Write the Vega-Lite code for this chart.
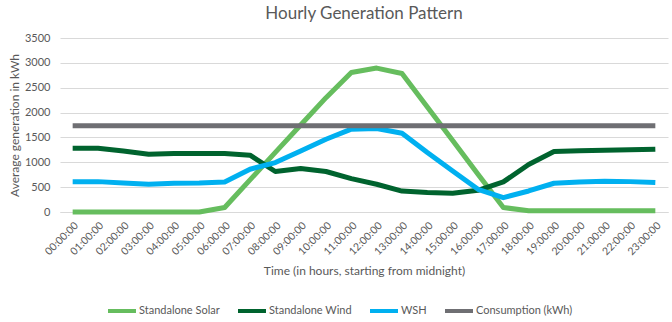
{
  "$schema": "https://vega.github.io/schema/vega-lite/v6.json",
  "width": 608,
  "height": 174,
  "autosize": "none",
  "padding": {"left": 60, "top": 38, "right": 4, "bottom": 110},
  "background": "white",
  "title": {"text": "Hourly Generation Pattern", "anchor": "middle", "frame": "group", "offset": 9, "font": "Lato", "fontSize": 17, "fontWeight": "normal", "color": "#595959"},
  "config": {"view": {"stroke": null}, "font": "Lato"},
  "data": {"values": [
    {"t":"00:00:00","s":"Standalone Solar","v":0},{"t":"01:00:00","s":"Standalone Solar","v":0},{"t":"02:00:00","s":"Standalone Solar","v":0},{"t":"03:00:00","s":"Standalone Solar","v":0},{"t":"04:00:00","s":"Standalone Solar","v":0},{"t":"05:00:00","s":"Standalone Solar","v":0},{"t":"06:00:00","s":"Standalone Solar","v":90},{"t":"07:00:00","s":"Standalone Solar","v":645},{"t":"08:00:00","s":"Standalone Solar","v":1200},{"t":"09:00:00","s":"Standalone Solar","v":1750},{"t":"10:00:00","s":"Standalone Solar","v":2300},{"t":"11:00:00","s":"Standalone Solar","v":2805},{"t":"12:00:00","s":"Standalone Solar","v":2895},{"t":"13:00:00","s":"Standalone Solar","v":2785},{"t":"14:00:00","s":"Standalone Solar","v":2110},{"t":"15:00:00","s":"Standalone Solar","v":1440},{"t":"16:00:00","s":"Standalone Solar","v":760},{"t":"17:00:00","s":"Standalone Solar","v":90},{"t":"18:00:00","s":"Standalone Solar","v":25},{"t":"19:00:00","s":"Standalone Solar","v":25},{"t":"20:00:00","s":"Standalone Solar","v":25},{"t":"21:00:00","s":"Standalone Solar","v":25},{"t":"22:00:00","s":"Standalone Solar","v":25},{"t":"23:00:00","s":"Standalone Solar","v":25},
    {"t":"00:00:00","s":"Standalone Wind","v":1283},{"t":"01:00:00","s":"Standalone Wind","v":1283},{"t":"02:00:00","s":"Standalone Wind","v":1225},{"t":"03:00:00","s":"Standalone Wind","v":1160},{"t":"04:00:00","s":"Standalone Wind","v":1176},{"t":"05:00:00","s":"Standalone Wind","v":1176},{"t":"06:00:00","s":"Standalone Wind","v":1176},{"t":"07:00:00","s":"Standalone Wind","v":1142},{"t":"08:00:00","s":"Standalone Wind","v":815},{"t":"09:00:00","s":"Standalone Wind","v":873},{"t":"10:00:00","s":"Standalone Wind","v":815},{"t":"11:00:00","s":"Standalone Wind","v":672},{"t":"12:00:00","s":"Standalone Wind","v":558},{"t":"13:00:00","s":"Standalone Wind","v":420},{"t":"14:00:00","s":"Standalone Wind","v":390},{"t":"15:00:00","s":"Standalone Wind","v":376},{"t":"16:00:00","s":"Standalone Wind","v":437},{"t":"17:00:00","s":"Standalone Wind","v":605},{"t":"18:00:00","s":"Standalone Wind","v":955},{"t":"19:00:00","s":"Standalone Wind","v":1216},{"t":"20:00:00","s":"Standalone Wind","v":1230},{"t":"21:00:00","s":"Standalone Wind","v":1240},{"t":"22:00:00","s":"Standalone Wind","v":1250},{"t":"23:00:00","s":"Standalone Wind","v":1263},
    {"t":"00:00:00","s":"WSH","v":611},{"t":"01:00:00","s":"WSH","v":611},{"t":"02:00:00","s":"WSH","v":585},{"t":"03:00:00","s":"WSH","v":557},{"t":"04:00:00","s":"WSH","v":578},{"t":"05:00:00","s":"WSH","v":584},{"t":"06:00:00","s":"WSH","v":605},{"t":"07:00:00","s":"WSH","v":860},{"t":"08:00:00","s":"WSH","v":994},{"t":"09:00:00","s":"WSH","v":1229},{"t":"10:00:00","s":"WSH","v":1464},{"t":"11:00:00","s":"WSH","v":1666},{"t":"12:00:00","s":"WSH","v":1680},{"t":"13:00:00","s":"WSH","v":1585},{"t":"14:00:00","s":"WSH","v":1196},{"t":"15:00:00","s":"WSH","v":826},{"t":"16:00:00","s":"WSH","v":457},{"t":"17:00:00","s":"WSH","v":289},{"t":"18:00:00","s":"WSH","v":423},{"t":"19:00:00","s":"WSH","v":578},{"t":"20:00:00","s":"WSH","v":605},{"t":"21:00:00","s":"WSH","v":618},{"t":"22:00:00","s":"WSH","v":611},{"t":"23:00:00","s":"WSH","v":591},
    {"t":"00:00:00","s":"Consumption (kWh)","v":1735},{"t":"01:00:00","s":"Consumption (kWh)","v":1735},{"t":"02:00:00","s":"Consumption (kWh)","v":1735},{"t":"03:00:00","s":"Consumption (kWh)","v":1735},{"t":"04:00:00","s":"Consumption (kWh)","v":1735},{"t":"05:00:00","s":"Consumption (kWh)","v":1735},{"t":"06:00:00","s":"Consumption (kWh)","v":1735},{"t":"07:00:00","s":"Consumption (kWh)","v":1735},{"t":"08:00:00","s":"Consumption (kWh)","v":1735},{"t":"09:00:00","s":"Consumption (kWh)","v":1735},{"t":"10:00:00","s":"Consumption (kWh)","v":1735},{"t":"11:00:00","s":"Consumption (kWh)","v":1735},{"t":"12:00:00","s":"Consumption (kWh)","v":1735},{"t":"13:00:00","s":"Consumption (kWh)","v":1735},{"t":"14:00:00","s":"Consumption (kWh)","v":1735},{"t":"15:00:00","s":"Consumption (kWh)","v":1735},{"t":"16:00:00","s":"Consumption (kWh)","v":1735},{"t":"17:00:00","s":"Consumption (kWh)","v":1735},{"t":"18:00:00","s":"Consumption (kWh)","v":1735},{"t":"19:00:00","s":"Consumption (kWh)","v":1735},{"t":"20:00:00","s":"Consumption (kWh)","v":1735},{"t":"21:00:00","s":"Consumption (kWh)","v":1735},{"t":"22:00:00","s":"Consumption (kWh)","v":1735},{"t":"23:00:00","s":"Consumption (kWh)","v":1735}
  ]},
  "mark": {"type": "line", "strokeWidth": 5, "strokeJoin": "round", "strokeCap": "butt"},
  "encoding": {
    "x": {"field": "t", "type": "ordinal", "sort": null,
      "scale": {"type": "point", "padding": 0.5},
      "axis": {"title": "Time (in hours, starting from midnight)", "labelAngle": -45, "labelFontSize": 10.5, "labelColor": "#595959", "labelPadding": 8, "ticks": false, "domainColor": "#d9d9d9", "titleFontSize": 12, "titleFontWeight": "normal", "titleColor": "#595959", "titleY": 53, "titleBaseline": "top"}},
    "y": {"field": "v", "type": "quantitative",
      "scale": {"domain": [0, 3500], "nice": false},
      "axis": {"title": "Average generation in kWh", "format": "d", "values": [0,500,1000,1500,2000,2500,3000,3500], "labelFontSize": 11, "labelColor": "#595959", "labelPadding": 10, "ticks": false, "domain": false, "gridColor": "#d9d9d9", "titleFontSize": 12, "titleFontWeight": "normal", "titleColor": "#595959", "titlePadding": 3}},
    "color": {"field": "s", "type": "nominal",
      "scale": {"domain": ["Standalone Solar", "Standalone Wind", "WSH", "Consumption (kWh)"], "range": ["#66bd5e", "#00632e", "#00b0f0", "#6f6f73"]},
      "legend": {"title": null, "orient": "none", "direction": "horizontal", "legendX": 46, "legendY": 257, "gridAlign": "none", "symbolType": "stroke", "symbolStrokeWidth": 4, "symbolSize": 784, "labelFontSize": 11, "labelColor": "#595959", "labelOffset": 1, "columnPadding": 10}}
  }
}
